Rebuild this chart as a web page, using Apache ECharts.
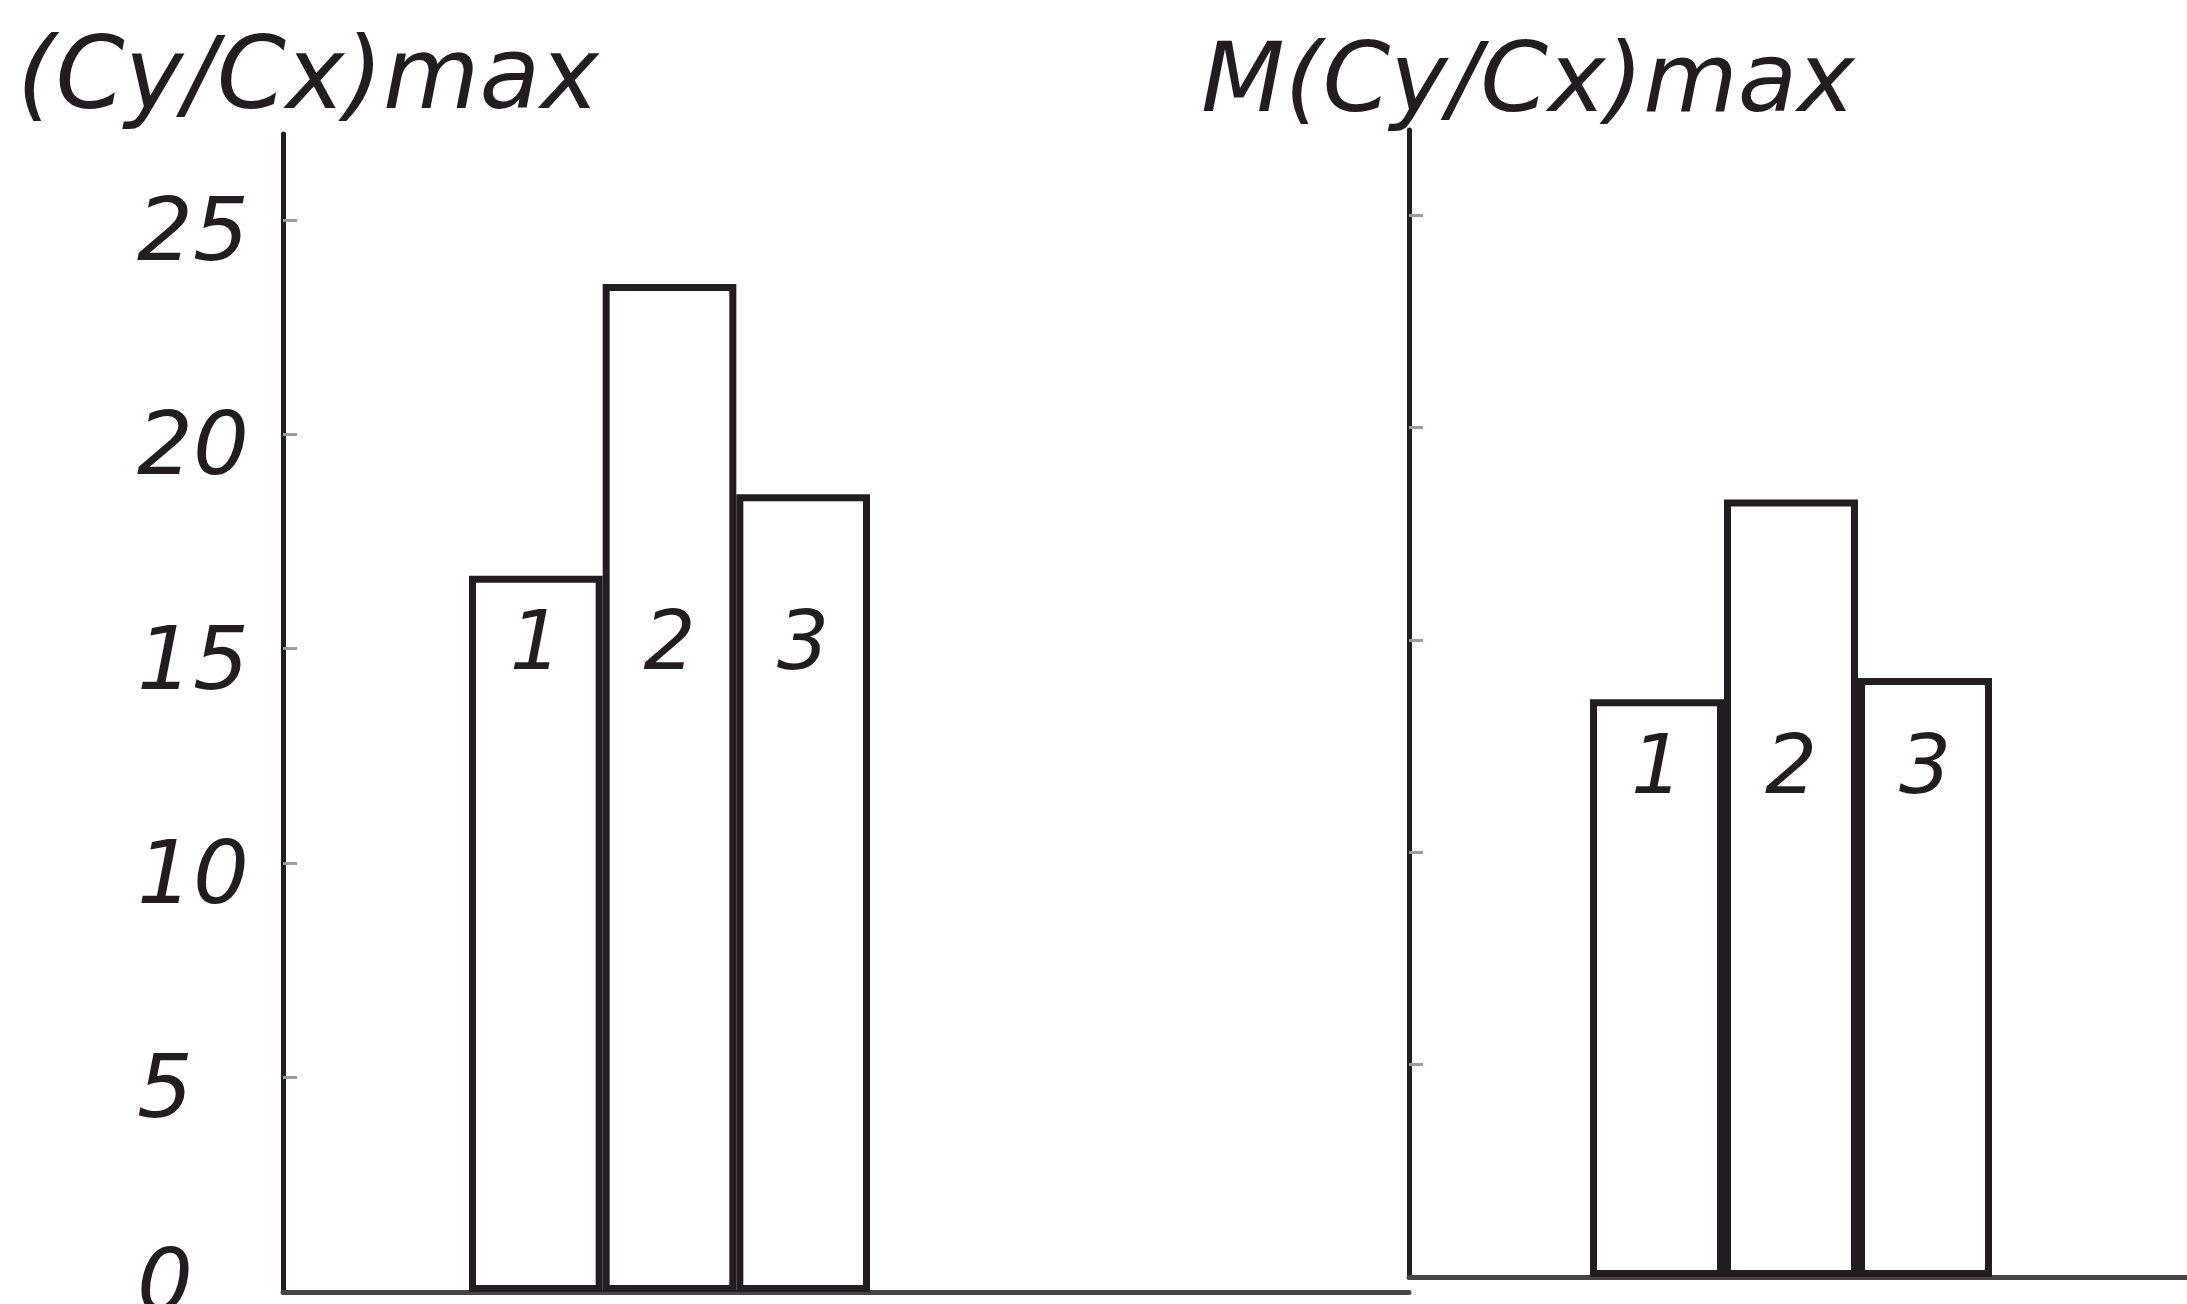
<!DOCTYPE html>
<html>
<head>
<meta charset="utf-8">
<script src="https://cdn.jsdelivr.net/npm/echarts@6/dist/echarts.min.js"></script>
<style>
html,body{margin:0;padding:0;background:#fff;}
#chart{width:2187px;height:1304px;}
</style>
</head>
<body>
<div id="chart"></div>
<script>
const categories = ['1', '2', '3'];
const leftValues = [16.7, 23.5, 18.6];
const rightValues = [13.6, 18.3, 14.1];
const leftTickLabels = [0, 5, 10, 15, 20, 25];
const tickMarks = [5, 10, 15, 20, 25];
const leftTitle = '(Cy/Cx)max';
const rightTitle = 'M(Cy/Cx)max';
const yMax = 27;

const ink = '#231c20';
const fontFam = 'DejaVu Sans';

const labelFont = {fontFamily: fontFam, fontStyle: 'italic', fontSize: 88, color: ink};

function axesY(grid, withLabels) {
  return {
    gridIndex: grid, type: 'value', min: 0, max: yMax,
    axisLine: {show: true, lineStyle: {color: ink, width: 5}},
    axisTick: {show: true, inside: true, length: 14, customValues: tickMarks,
      lineStyle: {color: '#a09a9c', width: 3}},
    axisLabel: withLabels ? Object.assign({show: true, customValues: leftTickLabels, align: 'left', margin: 146,
      formatter: v => (Number(v) === 0 ? '{z|' + v + '}' : '{n|' + v + '}'),
      rich: {
        n: Object.assign({padding: [34, 0, 0, 0]}, labelFont),
        z: Object.assign({padding: [0, 0, 8, 0]}, labelFont)
      }}, labelFont) : {show: false},
    splitLine: {show: false}
  };
}
function hiddenY(grid) {
  return {gridIndex: grid, type: 'value', min: 0, max: yMax, show: false, splitLine: {show: false}};
}
function baseX(grid) {
  return {
    gridIndex: grid, type: 'category', data: [''],
    axisLine: {show: true, lineStyle: {color: '#4a4446', width: 5}},
    axisTick: {show: false}, axisLabel: {show: false}, splitLine: {show: false}
  };
}
function barX(grid) {
  return {gridIndex: grid, type: 'category', data: categories, show: false};
}
function barSeries(idx, vals) {
  return {
    type: 'bar', xAxisIndex: idx, yAxisIndex: idx, data: vals,
    barCategoryGap: '0%', barWidth: '100%',
    itemStyle: {color: '#ffffff', borderColor: ink, borderWidth: 7},
    silent: true
  };
}
function labelSeries(idx, vals) {
  const level = Math.min.apply(null, vals);
  return {
    type: 'scatter', xAxisIndex: idx, yAxisIndex: idx, symbolSize: 0, z: 5,
    itemStyle: {opacity: 1},
    data: categories.map(c => [c, level]),
    label: {show: true, position: 'inside', offset: [0, 72], opacity: 1,
      formatter: p => p.data[0],
      fontFamily: fontFam, fontStyle: 'italic', fontSize: 82, color: ink},
    silent: true
  };
}

const chart = echarts.init(document.getElementById('chart'));
const gridBase = {outerBoundsMode: 'none', containLabel: false};
chart.setOption({
  backgroundColor: '#ffffff',
  animation: false,
  title: [
    {text: leftTitle, left: 12, top: 28,
      textStyle: {fontFamily: fontFam, fontStyle: 'italic', fontWeight: 'normal', fontSize: 99, color: ink}},
    {text: rightTitle, left: 1196, top: 32,
      textStyle: {fontFamily: fontFam, fontStyle: 'italic', fontWeight: 'normal', fontSize: 97, color: ink}}
  ],
  grid: [
    Object.assign({left: 283, width: 1126, top: 134, bottom: 12}, gridBase),
    Object.assign({left: 469, width: 401, top: 134, bottom: 12}, gridBase),
    Object.assign({left: 1409, right: 0, top: 130, bottom: 27}, gridBase),
    Object.assign({left: 1590, width: 402, top: 130, bottom: 27}, gridBase)
  ],
  xAxis: [baseX(0), barX(1), baseX(2), barX(3)],
  yAxis: [axesY(0, true), hiddenY(1), axesY(2, false), hiddenY(3)],
  series: [
    barSeries(1, leftValues), labelSeries(1, leftValues),
    barSeries(3, rightValues), labelSeries(3, rightValues)
  ]
});
</script>
</body>
</html>
